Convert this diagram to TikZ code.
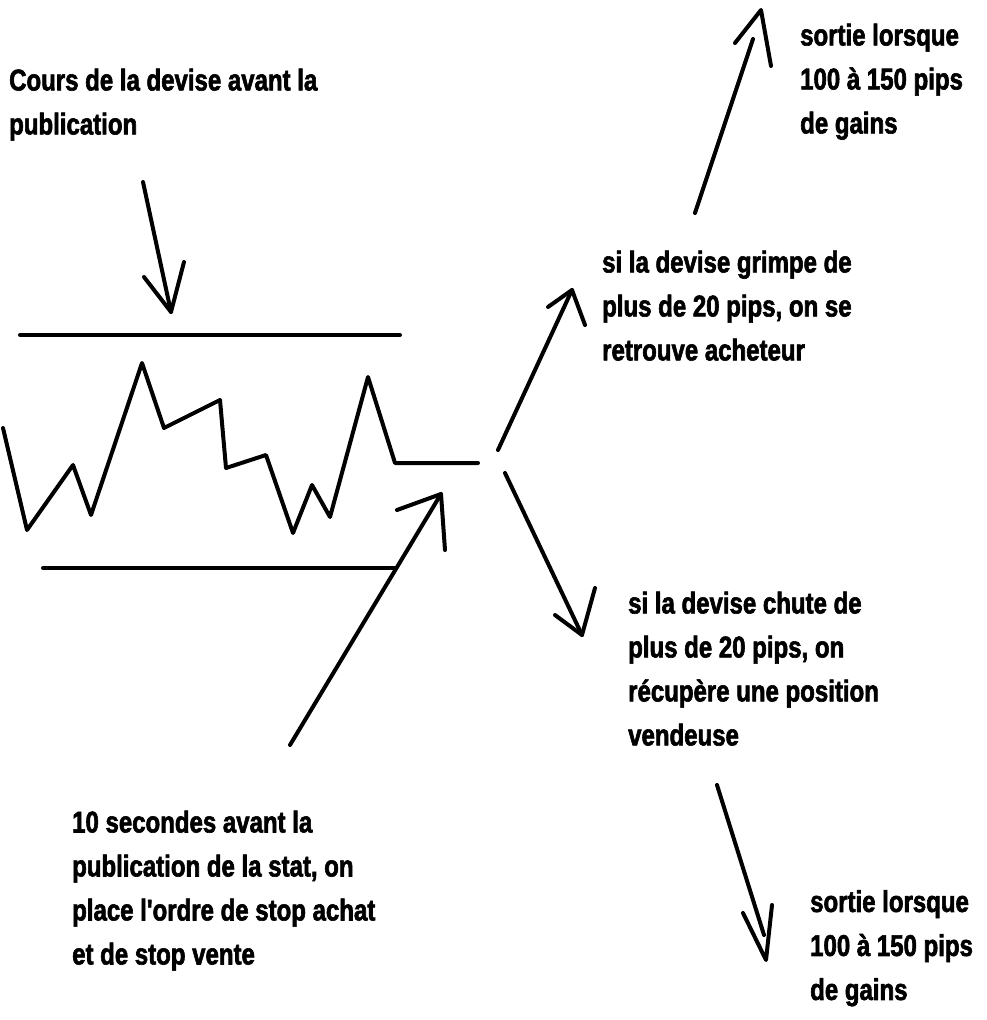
\documentclass[tikz,border=0pt]{standalone}
\usepackage{fontspec}
\newfontfamily\lbl{Liberation Sans}[FakeStretch=0.8, BoldFeatures={FakeBold=2}]
\tikzset{
  ln/.style={line width=4pt, line cap=round, line join=round, black},
  lbltext/.style={anchor=north west, inner sep=0pt, align=left,
    font=\lbl\bfseries\fontsize{30}{44}\selectfont}
}
\begin{document}
\begin{tikzpicture}[x=1pt,y=-1pt]
\useasboundingbox[fill=white] (0,0) rectangle (986,1020);
% text blocks
\node[lbltext] (cours) at (9,68.5) {Cours de la devise avant la\\publication};
\node[lbltext] (sortieH) at (800,23.5) {sortie lorsque\\100 à 150 pips\\de gains};
\node[lbltext] (grimpe) at (602,250.5) {si la devise grimpe de\\plus de 20 pips, on se\\retrouve acheteur};
\node[lbltext] (chute) at (628,591.5) {si la devise chute de\\plus de 20 pips, on\\récupère une position\\vendeuse};
\node[lbltext] (dix) at (72,810.5) {10 secondes avant la\\publication de la stat, on\\place l'ordre de stop achat\\et de stop vente};
\node[lbltext] (sortieB) at (810,890) {sortie lorsque\\100 à 150 pips\\de gains};
% range lines
\coordinate (topL) at (20,335); \coordinate (topR) at (400,335);
\coordinate (botL) at (43,568); \coordinate (botR) at (395,568);
\draw[ln] (topL) -- (topR);
\draw[ln] (botL) -- (botR);
% price zigzag
\draw[ln] (3,428) -- (27,530) -- (73,465) -- (91,515) -- (142,363) -- (164,428)
  -- (220,400) -- (226,468) -- (266,455) -- (293,533) -- (312,485) -- (330,517)
  -- (368,377) -- (395,463) -- (478,463);
% arrow 1: from "Cours" label down to top line
\coordinate (a1t) at (143,182); \coordinate (a1h) at (171,312);
\coordinate (a1l) at (144,277); \coordinate (a1r) at (184,262);
\draw[ln] (a1t) -- (a1h);
\draw[ln] (a1l) -- (a1h) -- (a1r);
% arrow 2: from "10 secondes" label up to price
\coordinate (a2t) at (290,745); \coordinate (a2h) at (441,494);
\coordinate (a2l) at (397,510); \coordinate (a2r) at (445,550);
\draw[ln] (a2t) -- (a2h);
\draw[ln] (a2l) -- (a2h) -- (a2r);
% arrow 3: up branch
\coordinate (a3t) at (498,450); \coordinate (a3h) at (572,290);
\coordinate (a3l) at (548,307); \coordinate (a3r) at (585,325);
\draw[ln] (a3t) -- (a3h);
\draw[ln] (a3l) -- (a3h) -- (a3r);
% arrow 4: down branch
\coordinate (a4t) at (505,473); \coordinate (a4h) at (582,635);
\coordinate (a4l) at (555,615); \coordinate (a4r) at (595,588);
\draw[ln] (a4t) -- (a4h);
\draw[ln] (a4l) -- (a4h) -- (a4r);
% arrow 5: to top-right exit
\coordinate (a5t) at (695,213); \coordinate (a5s) at (753,39); \coordinate (a5h) at (761,10);
\coordinate (a5l) at (735,43); \coordinate (a5r) at (771,66);
\draw[ln] (a5t) -- (a5s);
\draw[ln] (a5l) -- (a5h) -- (a5r);
% arrow 6: to bottom-right exit
\coordinate (a6t) at (717,785); \coordinate (a6s) at (764,935); \coordinate (a6h) at (766,960);
\coordinate (a6l) at (743,913); \coordinate (a6r) at (772,905);
\draw[ln] (a6t) -- (a6s);
\draw[ln] (a6l) -- (a6h) -- (a6r);
\end{tikzpicture}
\end{document}
